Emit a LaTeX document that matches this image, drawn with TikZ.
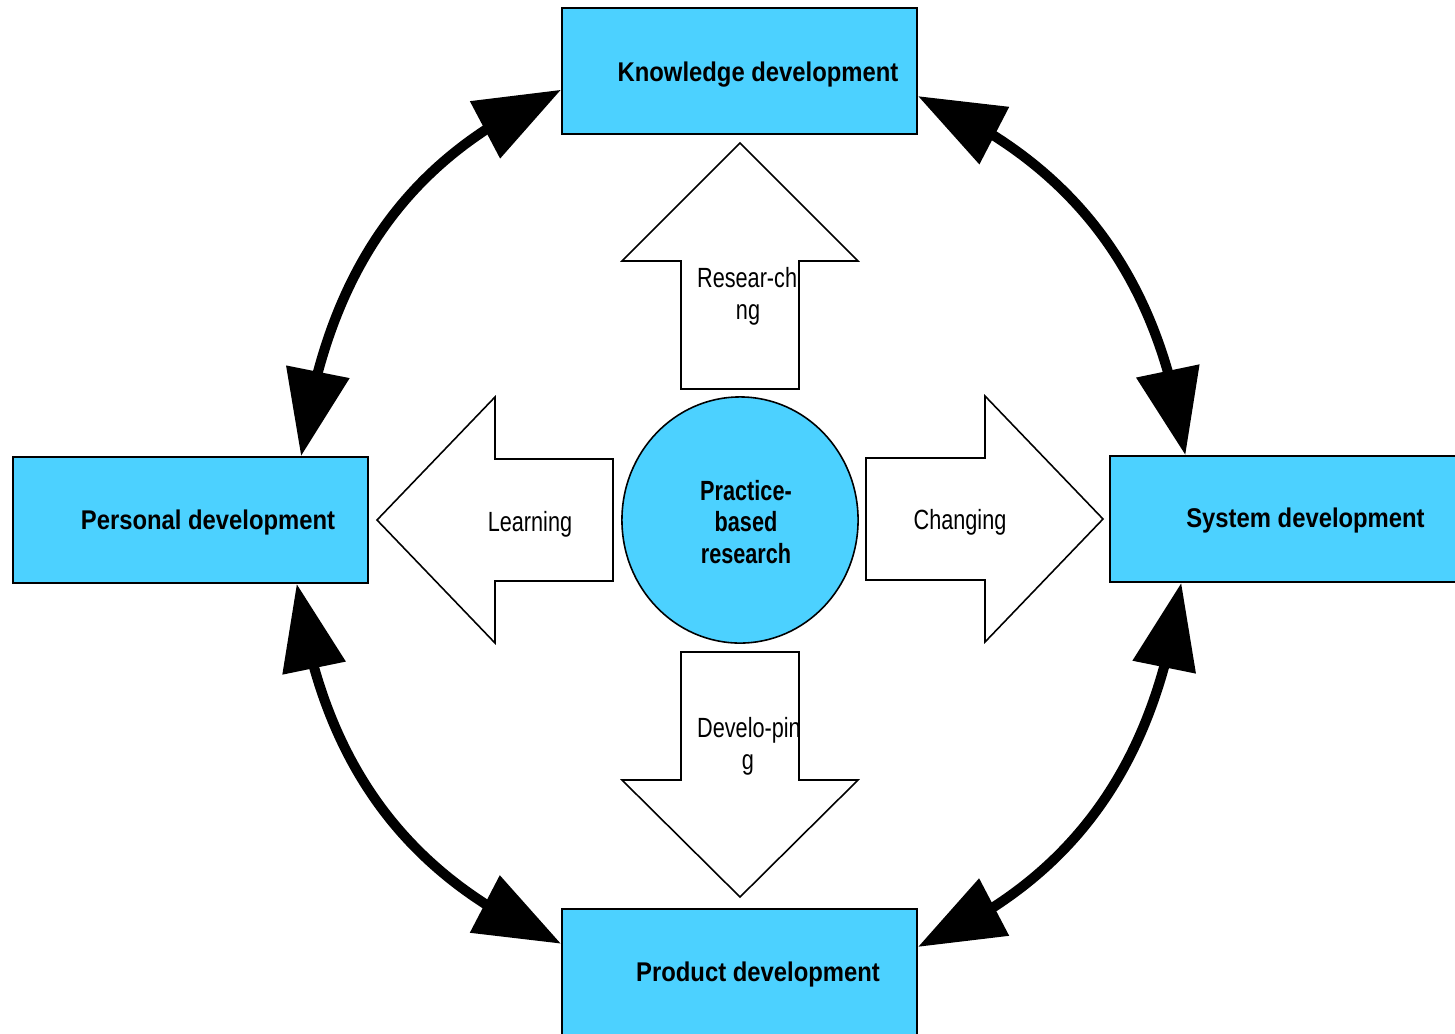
\documentclass[tikz,border=0pt]{standalone}
\usepackage{fontspec}
\setmainfont{Liberation Sans}
\newfontfamily\boxfont[FakeStretch=0.88]{Liberation Sans}
\newfontfamily\arrfont[FakeStretch=0.78]{Liberation Sans}
\usetikzlibrary{arrows.meta, bending, shapes.geometric}
\definecolor{boxcyan}{RGB}{76,209,255}

\tikzset{
  devbox/.style={draw=black, fill=boxcyan, line width=0.45pt, minimum width=3.55cm, minimum height=1.26cm, inner sep=0pt},
  devlabel/.style={anchor=base, inner sep=0pt, font=\boxfont\fontsize{7.7pt}{9pt}\selectfont\bfseries},
  blockarrow/.style={draw=black, fill=white, line width=0.45pt, line join=miter},
  arrlabel/.style={anchor=base, inner sep=0pt, font=\arrfont\fontsize{7.9pt}{9pt}\selectfont},
  devarrow/.style={line width=0.1cm, {Triangle[length=0.86cm,width=0.62cm]}-{Triangle[length=0.86cm,width=0.62cm]}},
}

\begin{document}
\begin{tikzpicture}[x=0.01cm, y=0.01cm]
\useasboundingbox (0,0) rectangle (1455,-1033);

% the four development boxes
\node[devbox] (know) at (739.5,-71) {};
\node[devbox] (pers) at (190.5,-520) {};
\node[devbox] (sys) at (1287.5,-519) {};
\node[devbox] (prod) at (739.5,-972) {};
\node[devlabel] (knowtxt) at (758,-81.5) {Knowledge development};
\node[devlabel] (perstxt) at (208,-529.5) {Personal development};
\node[devlabel] (systxt) at (1305.5,-527.5) {System development};
\node[devlabel] (prodtxt) at (758,-981.5) {Product development};

% block arrows round the centre
\draw[blockarrow] (681,-389) -- (681,-261) -- (622,-261) -- (740,-143) -- (858,-261) -- (799,-261) -- (799,-389) -- cycle;
\draw[blockarrow] (681,-652) -- (799,-652) -- (799,-780) -- (858,-780) -- (740,-897) -- (622,-780) -- (681,-780) -- cycle;
\draw[blockarrow] (613,-459) -- (495,-459) -- (495,-397) -- (377,-520) -- (495,-643) -- (495,-581) -- (613,-581) -- cycle;
\draw[blockarrow] (866,-458) -- (985,-458) -- (985,-396) -- (1103,-519) -- (985,-642) -- (985,-580) -- (866,-580) -- cycle;

\begin{scope}
\clip (681,-261) rectangle (799,-389);
\node[arrlabel] (res1) at (749.5,-287) {Resear-chi};
\node[arrlabel] (res2) at (748,-319) {ng};
\end{scope}
\begin{scope}
\clip (681,-652) rectangle (799,-780);
\node[arrlabel] (dev1) at (749,-737) {Develo-pin};
\node[arrlabel] (dev2) at (748,-769) {g};
\end{scope}
\node[arrlabel] (learn) at (530,-531) {Learning};
\node[arrlabel] (change) at (960,-529) {Changing};

% centre
\node[draw=black, fill=boxcyan, ellipse, line width=0.45pt, minimum width=2.36cm, minimum height=2.46cm, inner sep=0pt] (pbr) at (740,-520) {};
\node[align=center, inner sep=0pt, font=\arrfont\fontsize{7.9pt}{8.96pt}\selectfont\bfseries] (pbrtxt) at (746,-522) {Practice-\\based\\research};

% curved double arrows
\draw[devarrow] (pers.30.6) to[out=82, in=203] (know.186.7);
\draw[devarrow] (sys.148.9) to[out=98, in=-23] (know.352.9);
\draw[devarrow] (pers.329.4) to[out=-82, in=157] (prod.171.3);
\draw[devarrow] (sys.211.1) to[out=262, in=23] (prod.8.7);
\end{tikzpicture}
\end{document}
